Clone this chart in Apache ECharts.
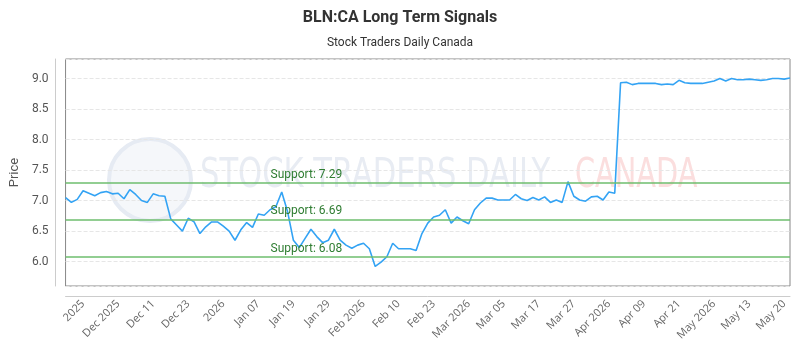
<!DOCTYPE html>
<html>
<head>
<meta charset="utf-8">
<script src="https://cdn.jsdelivr.net/npm/echarts@6/dist/echarts.min.js"></script>
<style>
  html, body { margin: 0; padding: 0; background: #fff; }
  #chart { width: 800px; height: 350px; }
</style>
</head>
<body>
<div id="chart"></div>
<script>
	/* price series, one value per trading day */
	var prices = [
		7.05, 6.97, 7.02, 7.16, 7.12, 7.08, 7.13, 7.15, 7.11, 7.12,
		7.03, 7.18, 7.10, 7.00, 6.97, 7.11, 7.08, 7.07, 6.70, 6.60,
		6.50, 6.71, 6.65, 6.46, 6.57, 6.65, 6.65, 6.58, 6.50, 6.35,
		6.52, 6.64, 6.56, 6.78, 6.76, 6.85, 6.90, 7.14, 6.82, 6.35,
		6.23, 6.38, 6.53, 6.41, 6.31, 6.35, 6.53, 6.35, 6.27, 6.22,
		6.27, 6.30, 6.21, 5.92, 5.99, 6.08, 6.30, 6.21, 6.21, 6.21,
		6.18, 6.46, 6.63, 6.73, 6.76, 6.85, 6.63, 6.73, 6.67, 6.62,
		6.85, 6.96, 7.04, 7.04, 7.01, 7.01, 7.01, 7.10, 7.03, 7.00,
		7.05, 7.01, 7.06, 6.97, 7.01, 6.97, 7.31, 7.07, 7.01, 6.99,
		7.06, 7.07, 7.01, 7.14, 7.12, 8.93, 8.94, 8.90, 8.92, 8.92,
		8.92, 8.92, 8.90, 8.91, 8.90, 8.97, 8.93, 8.92, 8.92, 8.92,
		8.94, 8.96, 9.00, 8.96, 9.00, 8.98, 8.98, 8.99, 8.98, 8.97,
		8.98, 9.00, 9.00, 8.99, 9.01
	];
	/* x labels shown every 6th point starting at point 3 */
	var tickLabels = ["2025", "Dec 2025", "Dec 11", "Dec 23", "2026", "Jan 07", "Jan 19", "Jan 29",
		"Feb 2026", "Feb 10", "Feb 23", "Mar 2026", "Mar 05", "Mar 17", "Mar 27", "Apr 2026",
		"Apr 09", "Apr 21", "May 2026", "May 13", "May 20"];
	var labelStart = 3;
	var labelEvery = 6;
	var supports = [7.29, 6.69, 6.08];

	var cats = [];
	for (var i = 0; i < prices.length; i++) {
		cats.push(String(i));
	}
	var supportLines = [];
	for (var j = 0; j < supports.length; j++) {
		supportLines.push({ yAxis: supports[j], name: 'Support: ' + supports[j].toFixed(2) });
	}

	var wmFont = '40px "DejaVu Sans Condensed", "Liberation Sans Narrow", sans-serif';

	var myChart = echarts.init(document.getElementById("chart"));
	var option = {
		animation: false,
		title: [
			{
				text: 'BLN:CA Long Term Signals',
				left: 'center',
				top: 5,
				textStyle: { fontFamily: 'Roboto', fontSize: 16, fontWeight: 'bold', color: '#333' }
			},
			{
				text: 'Stock Traders Daily Canada',
				left: 'center',
				top: 32,
				textStyle: { fontFamily: 'Roboto', fontSize: 12, fontWeight: 'normal', color: '#333' }
			}
		],
		graphic: [
			{
				type: 'circle', z: 0, silent: true,
				shape: { cx: 150, cy: 180, r: 41 },
				style: { fill: 'rgba(225,232,242,0.35)', stroke: '#e6ebf3', lineWidth: 4 }
			},
			{
				type: 'text', z: 0, silent: true, x: 200, y: 157, scaleX: 0.85,
				style: { text: 'STOCK TRADERS DAILY', fill: '#e8ecf3', font: wmFont }
			},
			{
				type: 'text', z: 0, silent: true, x: 575, y: 157, scaleX: 0.8,
				style: { text: 'CANADA', fill: '#fbdede', font: wmFont }
			}
		],
		grid: {
			left: 63,
			right: 10,
			top: 59,
			bottom: 64,
			show: true,
			borderColor: '#888',
			borderWidth: 1,
			backgroundColor: 'transparent'
		},
		xAxis: {
			type: 'category',
			data: cats,
			boundaryGap: false,
			offset: 10,
			axisLine: { show: true, lineStyle: { color: '#ccc' } },
			axisTick: { show: false },
			splitLine: { show: false },
			axisLabel: {
				rotate: 45,
				fontFamily: 'Open Sans',
				fontSize: 11,
				color: '#666',
				margin: 6,
				interval: function (idx) {
					return idx >= labelStart && (idx - labelStart) % labelEvery === 0;
				},
				formatter: function (val, idx) {
					return tickLabels[(idx - labelStart) / labelEvery] || '';
				}
			}
		},
		yAxis: {
			type: 'value',
			min: 5.6,
			max: 9.32,
			splitNumber: 7,
			offset: 10,
			name: 'Price',
			nameLocation: 'middle',
			nameGap: 32,
			nameTextStyle: { fontFamily: 'Roboto', fontSize: 13, color: '#555' },
			axisLine: { show: true, lineStyle: { color: '#ccc' } },
			axisTick: { show: false },
			axisLabel: {
				fontFamily: 'Roboto',
				fontSize: 12,
				color: '#555',
				margin: 7,
				showMinLabel: false,
				showMaxLabel: false,
				formatter: function (v) { return v.toFixed(1); }
			},
			splitLine: { show: true, lineStyle: { color: '#e6e6e6', type: 'dashed' } }
		},
		series: [
			{
				type: 'line',
				data: prices,
				showSymbol: false,
				z: 3,
				lineStyle: { color: '#33a3f4', width: 1.6 },
				itemStyle: { color: '#33a3f4' },
				markLine: {
					silent: true,
					symbol: 'none',
					lineStyle: { color: 'rgba(110,190,110,0.75)', width: 2, type: 'solid' },
					label: {
						show: true,
						position: 'insideStartTop',
						formatter: '{b}',
						color: '#2f7d32',
						fontFamily: 'Roboto',
						fontSize: 12,
						distance: 2,
						padding: [0, 0, 0, 203]
					},
					data: supportLines
				}
			}
		]
	};
	myChart.setOption(option);
</script>
</body>
</html>
